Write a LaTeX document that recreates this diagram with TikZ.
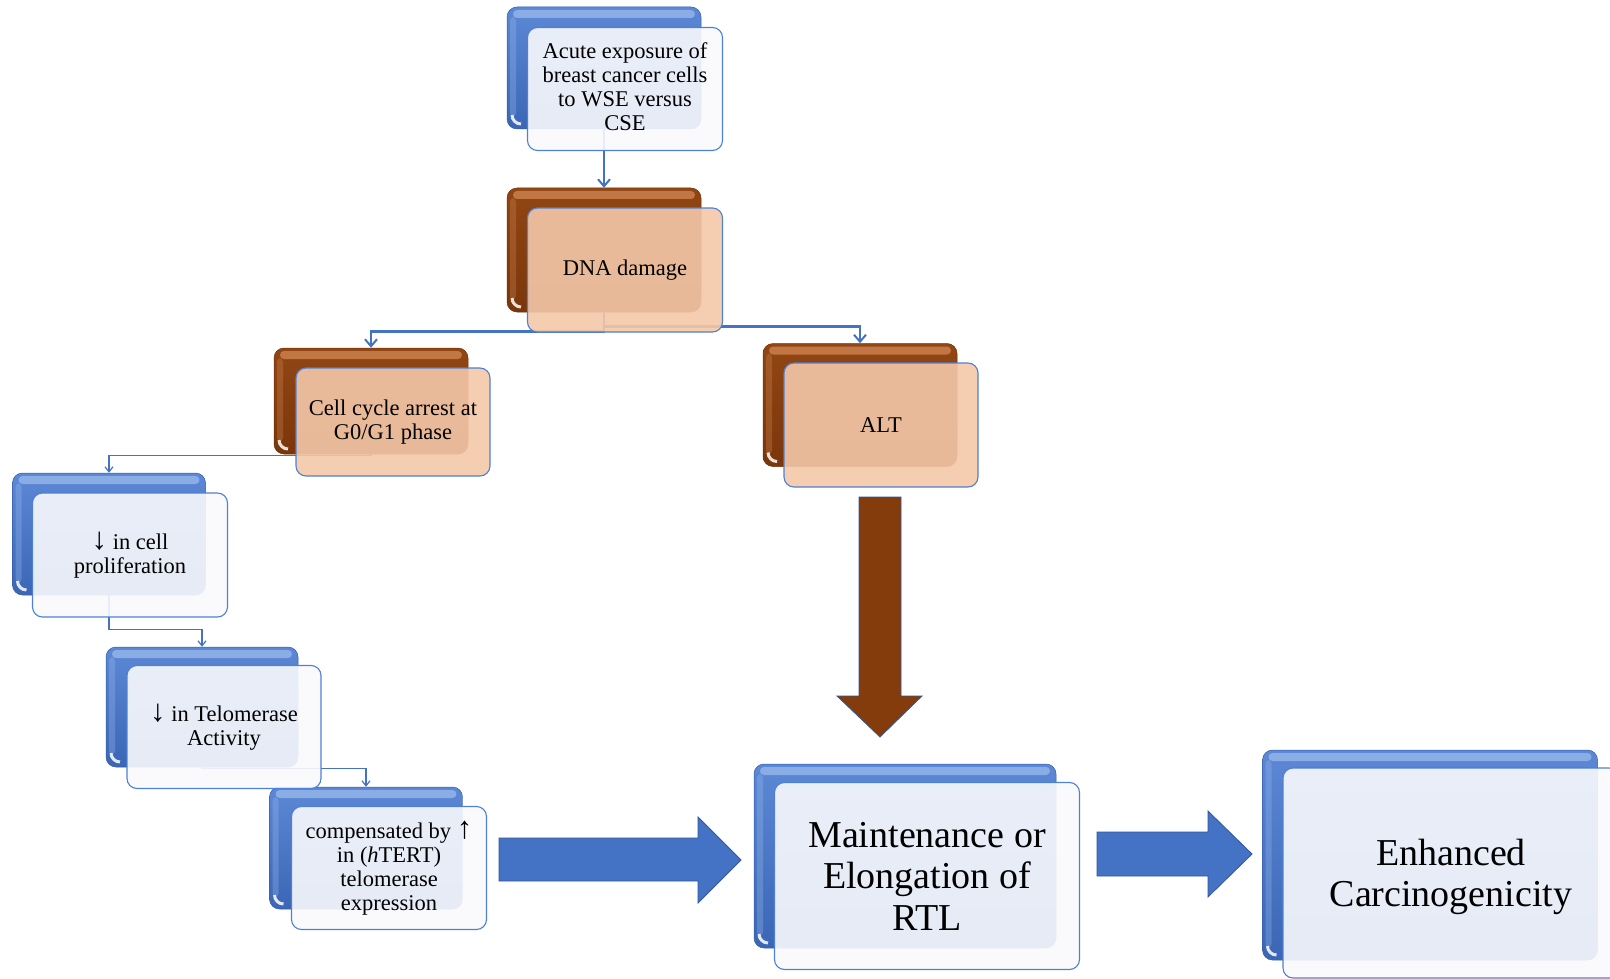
\documentclass[tikz,border=0pt]{standalone}
\usepackage{fontspec}
\setmainfont{Liberation Serif}
\usetikzlibrary{arrows.meta}

% palette
\definecolor{blueTop}{RGB}{92,136,214}
\definecolor{blueBot}{RGB}{58,102,181}
\definecolor{blueEdge}{RGB}{52,92,170}
\definecolor{blueHi}{RGB}{160,190,238}
\definecolor{brownTop}{RGB}{146,70,20}
\definecolor{brownBot}{RGB}{122,54,10}
\definecolor{brownEdge}{RGB}{110,48,10}
\definecolor{brownHi}{RGB}{214,140,90}
\definecolor{paleFill}{RGB}{249,250,253}
\definecolor{peachFill}{RGB}{244,200,169}
\definecolor{frameBlue}{RGB}{78,128,212}
\definecolor{linkBlue}{RGB}{68,114,196}
\definecolor{arrowBlue}{RGB}{68,114,196}
\definecolor{arrowBrown}{RGB}{132,60,12}
\definecolor{arrowEdge}{RGB}{52,86,150}

% full-height arrow glyphs
\newcommand{\dnarrow}{{\fontsize{31}{24}\selectfont ↓}}
\newcommand{\uparrowglyph}{{\fontsize{31}{24}\selectfont ↑}}

\tikzset{
  % glossy rear plate of each stacked card
  backcard/.style={rectangle, rounded corners=10pt, inner sep=0pt,
    draw=#1Edge, line width=0.5pt, top color=#1Top, bottom color=#1Bot,
    path picture={
      \fill[#1Hi, opacity=0.7, rounded corners=4pt]
        ([xshift=6pt,yshift=-3pt]path picture bounding box.north west) rectangle
        ([xshift=-6pt,yshift=-11pt]path picture bounding box.north east);
      \fill[#1Hi, opacity=0.3, rounded corners=4pt]
        ([xshift=3pt,yshift=-10pt]path picture bounding box.north west) rectangle
        ([xshift=9pt,yshift=12pt]path picture bounding box.south west);
      \draw[white, line width=3pt, opacity=0.85]
        ([xshift=5pt,yshift=14pt]path picture bounding box.south west)
        arc[start angle=180, end angle=270, radius=9pt];
    }},
  % translucent front card carrying the text
  frontcard/.style={rectangle, rounded corners=10pt, inner sep=2pt,
    draw=frameBlue, line width=1.1pt, fill=#1, fill opacity=0.9,
    text opacity=1, align=center, text=black},
  small/.style={font=\fontsize{22.5}{24}\selectfont},
  large/.style={font=\fontsize{38}{41.5}\selectfont},
  link/.style={draw=linkBlue, line width=2.5pt,
    -{Straight Barb[length=7pt,width=12pt,line width=2pt]}},
  linkthin/.style={draw=linkBlue, line width=1.4pt,
    -{Straight Barb[length=5pt,width=8pt,line width=1.2pt]}},
  fatarrow/.style={draw=arrowEdge, line width=0.8pt, line join=miter}
}

\begin{document}
\begin{tikzpicture}[x=1pt, y=-1pt]
\useasboundingbox (0,0) rectangle (1610,979);
\clip (0,0) rectangle (1610,979);

% rear plates
\node[backcard=blue,  minimum width=194pt, minimum height=122pt] (acuteB) at (604,68) {};
\node[backcard=brown, minimum width=194pt, minimum height=124pt] (dnaB)   at (604,250) {};
\node[backcard=brown, minimum width=194pt, minimum height=106pt] (cellB)  at (371,401) {};
\node[backcard=brown, minimum width=194pt, minimum height=123pt] (altB)   at (860,405) {};
\node[backcard=blue,  minimum width=193pt, minimum height=122pt] (prolB)  at (109,534) {};
\node[backcard=blue,  minimum width=192pt, minimum height=120pt] (telB)   at (202,707) {};
\node[backcard=blue,  minimum width=193pt, minimum height=122pt] (compB)  at (366,848) {};
\node[backcard=blue,  minimum width=302pt, minimum height=184pt] (rtlB)   at (905,856) {};
\node[backcard=blue,  minimum width=335pt, minimum height=210pt] (carcB)  at (1430,855) {};

% hierarchy links
\draw[link] (acuteB.south) -- (dnaB.north);
\draw[link] (dnaB.south) -- ++(0,19) -| (cellB.north);
\draw[link] (dnaB.south) -- ++(0,14) -| (altB.north);
\draw[linkthin] (cellB.south) -- ++(0,1) -| (prolB.north);
\draw[linkthin] (prolB.south) -- ++(0,34) -| (telB.north);
\draw[linkthin] (telB.south) -- ++(0,1) -| (compB.north);

% front cards
\node[frontcard=paleFill, small, minimum width=195pt, minimum height=123pt] (acute) at (625,89) {};
\node[small, align=center] (acuteT) at (625,87)
  {Acute exposure of\\breast cancer cells\\to WSE versus\\CSE};
\node[frontcard=peachFill, small, minimum width=195pt, minimum height=124pt] (dna) at (625,270)
  {DNA damage};
\node[frontcard=peachFill, small, minimum width=194pt, minimum height=108pt] (cell) at (393,422)
  {Cell cycle arrest at\\G0/G1 phase};
\node[frontcard=peachFill, small, minimum width=194pt, minimum height=124pt] (alt) at (881,425)
  {ALT};
\node[frontcard=paleFill, small, minimum width=195pt, minimum height=124pt] (prol) at (130,555)
  {\dnarrow\ in cell\\proliferation};
\node[frontcard=paleFill, small, minimum width=194pt, minimum height=123pt] (tel) at (224,727)
  {\dnarrow\ in Telomerase\\Activity};
\node[frontcard=paleFill, small, minimum width=195pt, minimum height=123pt] (comp) at (389,868)
  {compensated by \uparrowglyph\\in (\textit{h}TERT)\\telomerase\\expression};
\node[frontcard=paleFill, large, minimum width=305pt, minimum height=187pt] (rtl) at (927,876)
  {Maintenance or\\Elongation of\\RTL};
\node[frontcard=paleFill, large, minimum width=336pt, minimum height=210pt] (carc) at (1451,873) {};
\node[large, align=center] (carcT) at (1451,877) {Enhanced\\Carcinogenicity};

% block arrows
\filldraw[fatarrow, fill=arrowBrown] (859,497) -- (901,497) -- (901,696) -- (922,696)
  -- (880,737) -- (837,696) -- (859,696) -- cycle;
\filldraw[fatarrow, fill=arrowBlue] (499,838) -- (698,838) -- (698,817) -- (741,860)
  -- (698,903) -- (698,881) -- (499,881) -- cycle;
\filldraw[fatarrow, fill=arrowBlue] (1097,832) -- (1208,832) -- (1208,811) -- (1252,854)
  -- (1208,897) -- (1208,876) -- (1097,876) -- cycle;
\end{tikzpicture}
\end{document}
